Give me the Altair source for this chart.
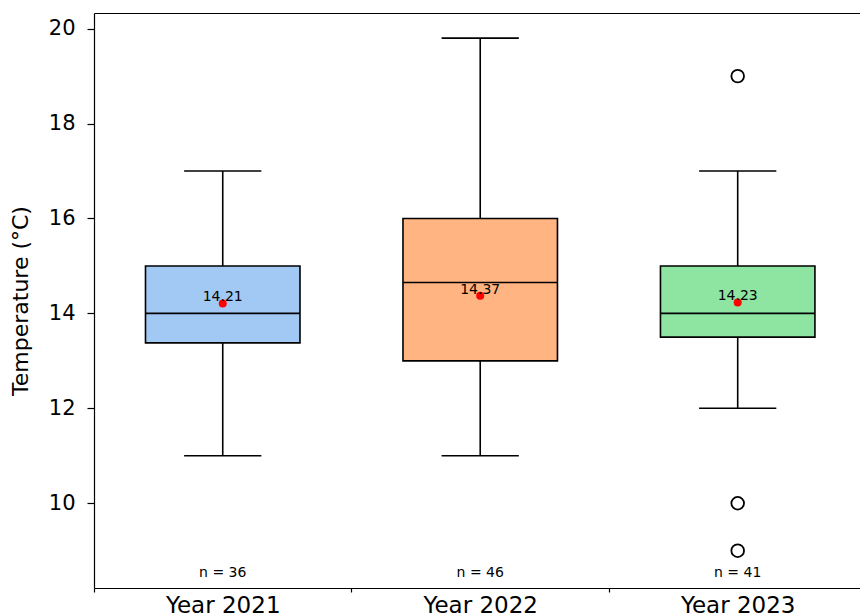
import json

import altair as alt
import pandas as pd

# Per-year summary statistics of the temperature samples
categories = ["Year 2021", "Year 2022", "Year 2023"]
box_colors = ["#a1c9f4", "#ffb482", "#8de5a1"]
q1 = [13.38, 13.0, 13.5]
medians = [14.0, 14.65, 14.0]
q3 = [15.0, 16.0, 15.0]
whisker_low = [11.0, 11.0, 12.0]
whisker_high = [17.0, 19.8, 17.0]
means = [14.21, 14.37, 14.23]
counts = [36, 46, 41]

# Points beyond the whiskers
outlier_groups = ["Year 2023", "Year 2023", "Year 2023"]
outlier_values = [19.0, 10.0, 9.0]

FONT = "DejaVu Sans"
Y_MIN, Y_MAX = 8.214, 20.33
X_MIN, X_MAX = 0.5, 3.475
BOX_HALF = 0.3
CAP_HALF = 0.15

stats = pd.DataFrame({
    "category": categories,
    "pos": [categories.index(c) + 1 for c in categories],
    "q1": q1,
    "median": medians,
    "q3": q3,
    "lo": whisker_low,
    "hi": whisker_high,
    "mean": means,
    "n": counts,
})
stats["mean_label"] = [f"{m:.2f}" for m in means]
stats["n_label"] = [f"n = {c}" for c in counts]

outliers = pd.DataFrame({
    "category": outlier_groups,
    "pos": [categories.index(c) + 1 for c in outlier_groups],
    "value": outlier_values,
})

x_scale = alt.Scale(domain=[X_MIN, X_MAX], nice=False, zero=False)
y_scale = alt.Scale(domain=[Y_MIN, Y_MAX], nice=False, zero=False)

label_expr = (
    "datum.value % 1 === 0 ? " + json.dumps(categories) + "[datum.value - 1] : ''"
)

bottom_axis = alt.Axis(
    values=[0.5, 1, 1.5, 2, 2.5, 3],
    labelExpr=label_expr,
    tickOpacity={"condition": {"test": "datum.value % 1 !== 0", "value": 1}, "value": 0},
    tickSize=4,
    tickWidth=1.2,
    tickColor="black",
    domainColor="black",
    domainWidth=1.2,
    grid=False,
    title=None,
    labelFont=FONT,
    labelFontSize=23,
    labelColor="black",
    labelPadding=2,
    labelOverlap=False,
    labelFlush=False,
)

top_axis = alt.Axis(
    orient="top",
    labels=False,
    ticks=False,
    grid=False,
    title=None,
    domainColor="black",
    domainWidth=1.2,
)

y_axis = alt.Axis(
    values=[10, 12, 14, 16, 18, 20],
    title="Temperature (°C)",
    titleFont=FONT,
    titleFontSize=22,
    titleFontWeight="normal",
    titleColor="black",
    titlePadding=16,
    labelFont=FONT,
    labelFontSize=21,
    labelColor="black",
    labelPadding=12,
    tickSize=7,
    tickWidth=1.2,
    tickColor="black",
    domainColor="black",
    domainWidth=1.2,
    grid=False,
)


def y_enc(field):
    return alt.Y(field, scale=y_scale, axis=y_axis)


base = alt.Chart(stats).transform_calculate(
    box_l=f"datum.pos - {BOX_HALF}",
    box_r=f"datum.pos + {BOX_HALF}",
    cap_l=f"datum.pos - {CAP_HALF}",
    cap_r=f"datum.pos + {CAP_HALF}",
)

# Whisker line spanning the full range
whiskers = base.mark_rule(color="black", strokeWidth=1.6).encode(
    x=alt.X("pos:Q", scale=x_scale, axis=bottom_axis),
    y=y_enc("lo:Q"),
    y2="hi:Q",
)

cap_low = base.mark_rule(color="black", strokeWidth=1.6).encode(
    x=alt.X("cap_l:Q", scale=x_scale, axis=None),
    x2="cap_r:Q",
    y=y_enc("lo:Q"),
)

cap_high = base.mark_rule(color="black", strokeWidth=1.6).encode(
    x=alt.X("cap_l:Q", scale=x_scale, axis=None),
    x2="cap_r:Q",
    y=y_enc("hi:Q"),
)

boxes = base.mark_rect(stroke="black", strokeWidth=1.6, opacity=1).encode(
    x=alt.X("box_l:Q", scale=x_scale, axis=None),
    x2="box_r:Q",
    y=y_enc("q1:Q"),
    y2="q3:Q",
    fill=alt.Color(
        "category:N",
        scale=alt.Scale(domain=categories, range=box_colors),
        legend=None,
    ),
)

median_lines = base.mark_rule(color="black", strokeWidth=1.6).encode(
    x=alt.X("box_l:Q", scale=x_scale, axis=top_axis),
    x2="box_r:Q",
    y=y_enc("median:Q"),
)

mean_dots = base.mark_circle(color="red", size=64, opacity=1).encode(
    x=alt.X("pos:Q", scale=x_scale, axis=None),
    y=y_enc("mean:Q"),
)

mean_text = base.mark_text(
    font=FONT, fontSize=14, color="black", align="center", baseline="alphabetic", dy=-2
).encode(
    x=alt.X("pos:Q", scale=x_scale, axis=None),
    y=y_enc("mean:Q"),
    text="mean_label:N",
)

outlier_points = alt.Chart(outliers).mark_point(
    shape="circle", filled=False, stroke="black", strokeWidth=1.8, size=160, opacity=1
).encode(
    x=alt.X("pos:Q", scale=x_scale, axis=None),
    y=y_enc("value:Q"),
)

n_text = base.transform_calculate(
    n_y=f"{Y_MIN} + 0.24"
).mark_text(
    font=FONT, fontSize=14, color="black", align="center", baseline="alphabetic"
).encode(
    x=alt.X("pos:Q", scale=x_scale, axis=None),
    y=y_enc("n_y:Q"),
    text="n_label:N",
)

chart = (
    alt.layer(
        whiskers, cap_low, cap_high, boxes, median_lines,
        mean_dots, mean_text, outlier_points, n_text,
    )
    .resolve_axis(x="independent")
    .properties(
        width=766,
        height=575,
        padding={"left": 94, "top": 13, "right": 0, "bottom": 28},
        autosize=alt.AutoSizeParams(type="none"),
        background="white",
    )
    .configure_view(stroke=None)
)

chart.save("out.html", embed_options={"renderer": "svg", "actions": False})
